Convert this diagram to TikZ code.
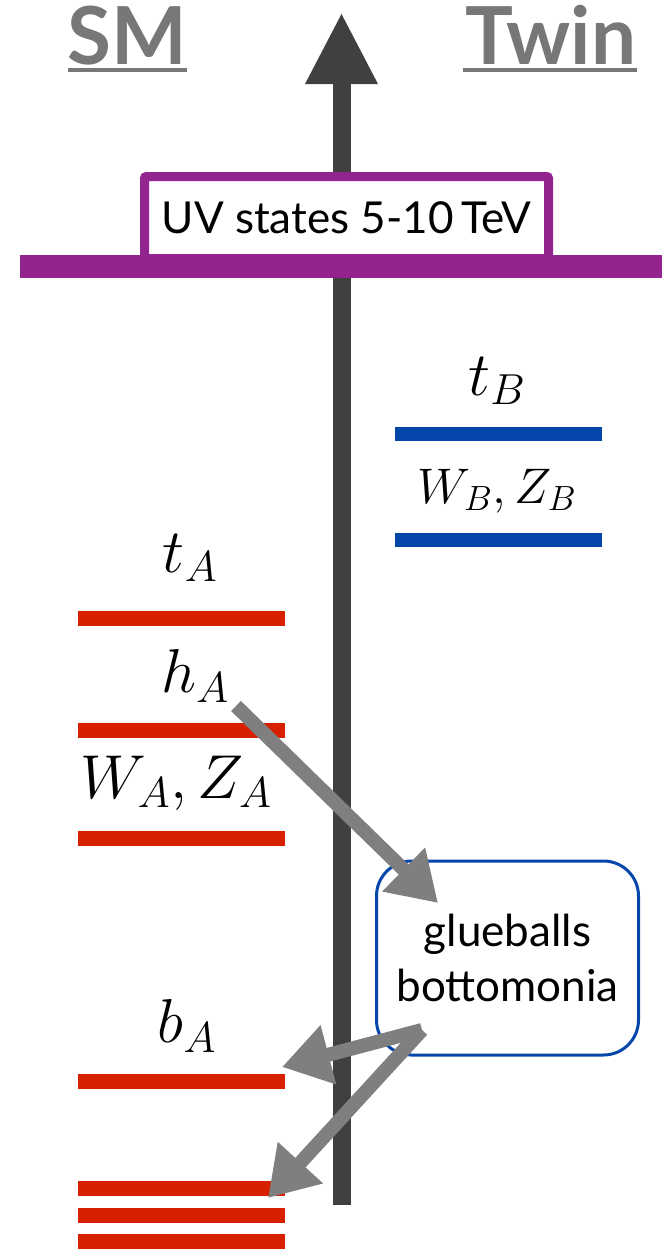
\RequirePackage{fix-cm}
\documentclass[tikz,border=0pt]{standalone}
\usepackage{fontspec}
\newfontfamily\gill{Lato}
\usetikzlibrary{arrows.meta}
\definecolor{smred}{RGB}{214,32,0}
\definecolor{twblue}{RGB}{5,70,170}
\definecolor{purp}{RGB}{146,35,143}
\definecolor{axisgray}{RGB}{64,64,64}
\definecolor{arrgray}{RGB}{127,127,127}
\definecolor{headgray}{RGB}{119,119,119}
\tikzset{
  redlevel/.style={draw=smred,line width=15pt},
  bluelevel/.style={draw=twblue,line width=14pt},
  mlabel/.style={font=\fontsize{62}{66}\selectfont,inner sep=0pt},
  slabel/.style={font=\fontsize{50}{54}\selectfont,inner sep=0pt},
  header/.style={font=\gill\bfseries\fontsize{80}{86}\selectfont,text=headgray,inner sep=0pt},
  decay/.style={draw=arrgray,line width=14pt,-{Triangle[length=48pt,width=58pt]}},
}
\begin{document}
\begin{tikzpicture}[x=1pt,y=-1pt]
\useasboundingbox (0,0) rectangle (669,1250);
% axis
\fill[axisgray] (332.5,80) rectangle (350.5,1205);
\fill[axisgray] (341.5,14) -- (378,84) -- (305,84) -- cycle;
% headers
\node[header,anchor=base] (sm) at (127.5,64) {SM};
\node[header,anchor=base] (twin) at (551,64) {Twin};
\draw[headgray,line width=4pt] (68,70) -- (187,70);
\draw[headgray,line width=4pt] (463,70) -- (637,70);
% UV
\fill[purp] (20,255) rectangle (662,278);
\node[draw=purp,line width=9pt,fill=white,rounded corners=2pt,minimum width=404pt,minimum height=82pt,inner sep=0pt,
  font=\gill\fontsize{44}{48}\selectfont] (uv) at (346.5,217.5) {UV states 5-10\,TeV};
% twin levels
\draw[bluelevel] (395,434) -- (602,434);
\draw[bluelevel] (395,540) -- (602,540);
\node[mlabel] (tB) at (497,381) {$t_B$};
\node[slabel] (WB) at (497,491) {$W_B,Z_B$};
% SM levels
\draw[redlevel] (78,618) -- (285,618);
\draw[redlevel] (78,730) -- (285,730);
\draw[redlevel] (78,838) -- (285,838);
\draw[redlevel] (78,1081) -- (285,1081);
\draw[redlevel] (78,1188) -- (285,1188);
\draw[redlevel] (78,1215) -- (285,1215);
\draw[redlevel] (78,1241) -- (285,1241);
\node[mlabel] (tA) at (190,558) {$t_A$};
\node[mlabel] (hA) at (195,676) {$h_A$};
\node[mlabel] (WA) at (176,783) {$W_A,Z_A$};
\node[mlabel] (bA) at (187,1026) {$b_A$};
% glue box
\node[draw=twblue,line width=3pt,rounded corners=35pt,fill=white,minimum width=262pt,minimum height=194pt,
  align=center,font=\gill\fontsize{44}{55}\selectfont] (glue) at (507.5,958) {glueballs\\bottomonia};
% arrows
\coordinate (hs) at (236,706);
\coordinate (g1) at (438,903);
\coordinate (g2) at (422,1030);
\coordinate (b1) at (282,1067);
\coordinate (b2) at (268,1198);
\draw[decay] (hs) -- (g1);
\draw[decay] (g2) -- (b1);
\draw[decay] (g2) -- (b2);
\end{tikzpicture}
\end{document}
